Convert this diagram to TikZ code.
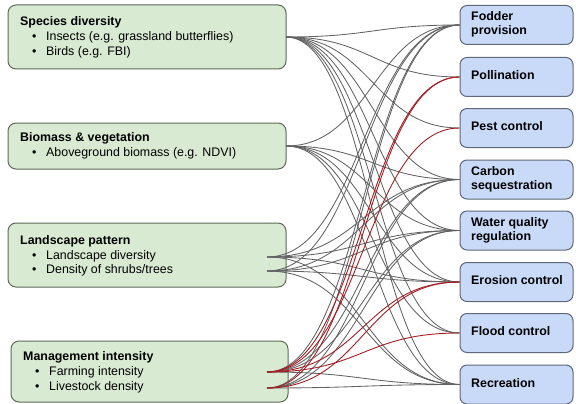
\documentclass[tikz,border=0pt]{standalone}
\usepackage{fontspec}
\setmainfont{Liberation Sans}
\definecolor{gfill}{HTML}{D9EAD3}
\definecolor{gline}{HTML}{5E6A58}
\definecolor{bfill}{HTML}{C9DAF8}
\definecolor{bline}{HTML}{5E6878}
\definecolor{lgray}{HTML}{626262}
\definecolor{lred}{HTML}{A31E22}
\tikzset{
  lbox/.style={draw=gline, fill=gfill, rounded corners=8pt, line width=1pt, minimum width=278pt, inner sep=0pt},
  rbox/.style={draw=bline, fill=bfill, rounded corners=7pt, line width=1pt, minimum width=113pt, minimum height=39pt, inner sep=0pt},
  ttl/.style={anchor=mid west, inner sep=0pt, font=\fontsize{12.4}{15}\selectfont\bfseries},
  itm/.style={anchor=mid west, inner sep=0pt, font=\fontsize{12.4}{15}\selectfont},
  glink/.style={draw=lgray, line width=0.85pt},
  rlink/.style={draw=lred, line width=0.9pt},
}
\newcommand{\lnk}[4]{\draw[#1] (#2) .. controls +(#4,0) and +(-#4,0) .. (#3);}
\begin{document}
\begin{tikzpicture}[x=1pt,y=-1pt]
\useasboundingbox (0,0) rectangle (576,404);
% left boxes
\node[lbox, minimum height=64pt] (sdb) at (147,37) {};
\node[lbox, minimum height=46pt] (bvb) at (147,146) {};
\node[lbox, minimum height=64pt] (lpb) at (147,255) {};
\node[lbox, minimum height=61pt, minimum width=277pt] (mib) at (149.5,371.5) {};
% right boxes
\node[rbox] (fo) at (516.5,25) {};
\node[rbox] (po) at (516.5,77) {};
\node[rbox] (pe) at (516.5,128) {};
\node[rbox] (ca) at (516.5,179.5) {};
\node[rbox] (wa) at (516.5,230.5) {};
\node[rbox] (er) at (516.5,282) {};
\node[rbox] (fl) at (516.5,333) {};
\node[rbox] (re) at (516.5,384.5) {};
% left texts
\node[ttl] (t1) at (20,23) {Species diversity};
\node[itm] (b11) at (32,38) {•};
\node[itm] (i11) at (46,38) {Insects (e.g. grassland butterflies)};
\node[itm] (b12) at (32,53) {•};
\node[itm] (i12) at (46,53) {Birds (e.g. FBI)};
\node[ttl] (t2) at (20,139) {Biomass \& vegetation};
\node[itm] (b21) at (32,154) {•};
\node[itm] (i21) at (46,154) {Aboveground biomass (e.g. NDVI)};
\node[ttl] (t3) at (20,242) {Landscape pattern};
\node[itm] (b31) at (32,256.5) {•};
\node[itm] (i31) at (46,256.5) {Landscape diversity};
\node[itm] (b32) at (32,271) {•};
\node[itm] (i32) at (46,271) {Density of shrubs/trees};
\node[ttl] (t4) at (23,358) {Management intensity};
\node[itm] (b41) at (35,373) {•};
\node[itm] (i41) at (49,373) {Farming intensity};
\node[itm] (b42) at (35,388) {•};
\node[itm] (i42) at (49,388) {Livestock density};
% right texts
\node[ttl] (r1a) at (471,18) {Fodder};
\node[ttl] (r1b) at (471,32) {provision};
\node[ttl] (r2) at (471,77) {Pollination};
\node[ttl] (r3) at (471,128) {Pest control};
\node[ttl] (r4a) at (471,172.5) {Carbon};
\node[ttl] (r4b) at (471,187) {sequestration};
\node[ttl] (r5a) at (471,223.5) {Water quality};
\node[ttl] (r5b) at (471,238) {regulation};
\node[ttl] (r6) at (471,282) {Erosion control};
\node[ttl] (r7) at (471,333) {Flood control};
\node[ttl] (r8) at (471,384.5) {Recreation};
% ports
\coordinate (S) at (286,37);
\coordinate (B) at (286,146);
\coordinate (LD) at (267,257);
\coordinate (DS) at (267,271);
\coordinate (FI) at (267,372);
\coordinate (LV) at (267,388);
\coordinate (pFo) at (fo.west);
\coordinate (pPo) at (po.west);
\coordinate (pPe) at (pe.west);
\coordinate (pCa) at (ca.west);
\coordinate (pWa) at (wa.west);
\coordinate (pEr) at (er.west);
\coordinate (pFl) at (fl.west);
\coordinate (pRe) at (re.west);
% gray links
\foreach \t in {pFo,pPo,pPe,pCa,pWa,pEr,pFl,pRe} {\lnk{glink}{S}{\t}{85}}
\foreach \t in {pFo,pCa,pWa,pEr,pFl,pRe} {\lnk{glink}{B}{\t}{85}}
\foreach \t in {pFo,pCa,pWa,pEr,pRe} {\lnk{glink}{LD}{\t}{95}}
\foreach \t in {pFo,pCa,pWa,pEr,pRe} {\lnk{glink}{DS}{\t}{95}}
\foreach \t in {pFo,pCa,pWa,pRe} {\lnk{glink}{FI}{\t}{95}}
\foreach \t in {pFo,pCa,pWa,pRe} {\lnk{glink}{LV}{\t}{95}}
% red links
\foreach \t in {pPo,pPe,pEr,pFl} {\lnk{rlink}{FI}{\t}{95}}
\foreach \t in {pPo,pEr} {\lnk{rlink}{LV}{\t}{95}}
\end{tikzpicture}
\end{document}
